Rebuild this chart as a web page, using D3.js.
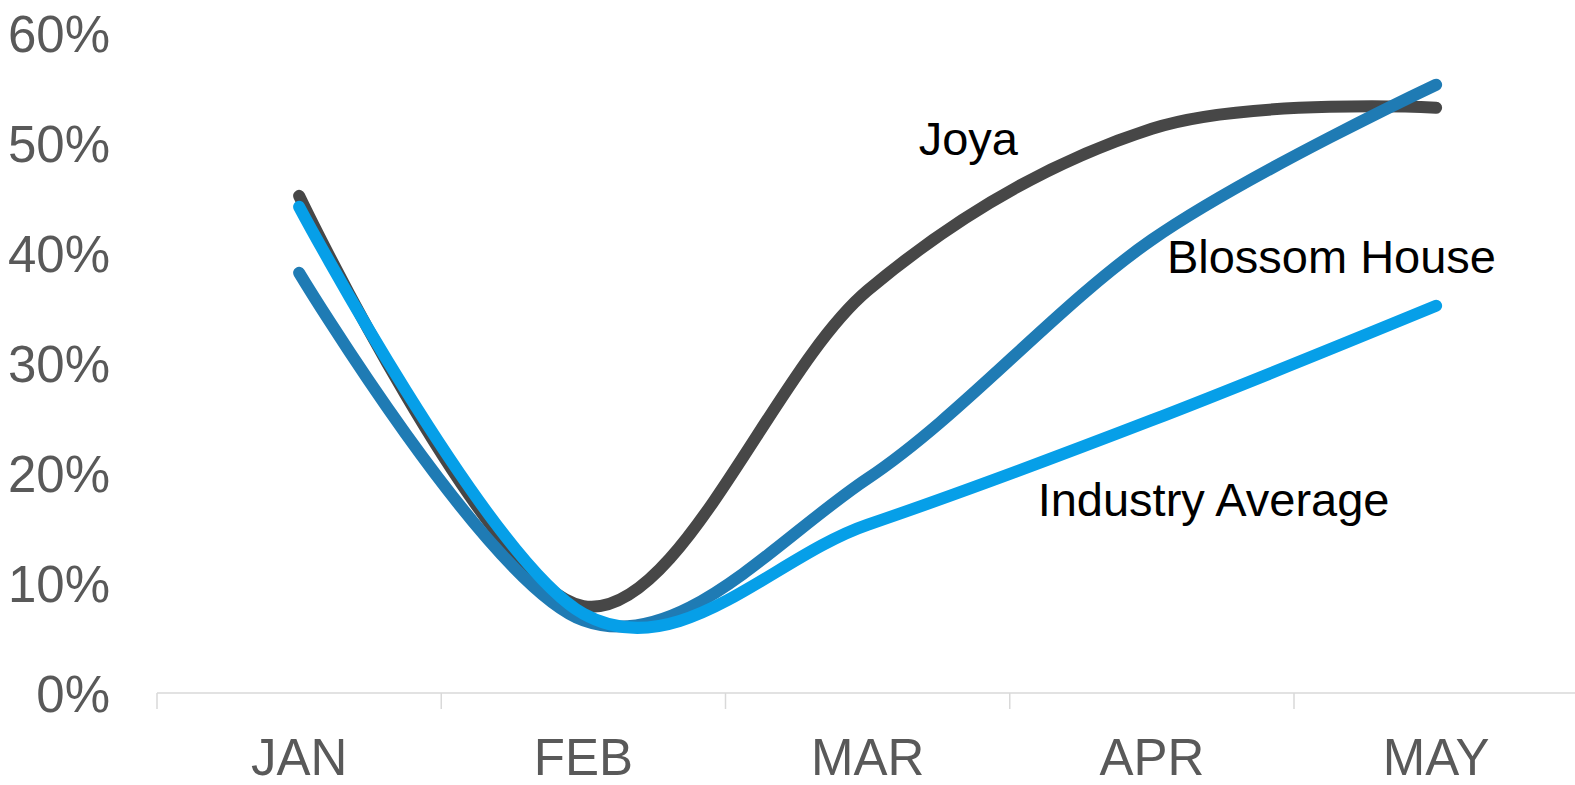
<html><head>
<title>Monthly share</title>
<script src="https://d3js.org/d3.v7.min.js"></script>
<style>
  body { margin: 0; background: #fff; }
  .line { fill: none; stroke-width: 12px; stroke-linecap: round; stroke-linejoin: round; }
  .axis-line { stroke: #d9d9d9; stroke-width: 1.5px; }
  .tick-label { fill: #595959; font-family: "Liberation Sans", Arial, sans-serif; font-size: 51px; }
  .series-label { fill: #000; font-family: "Liberation Sans", Arial, sans-serif; font-size: 47px; }
</style>
</head>
<body>
<svg id="chart" width="1575" height="785"></svg>
<script>
  // values (fractions)
  const months = ["JAN", "FEB", "MAR", "APR", "MAY"];
  const joya = [0.452, 0.079, 0.366, 0.513, 0.532];
  const blossomHouse = [0.382, 0.066, 0.195, 0.412, 0.553];
  const industryAverage = [0.442, 0.072, 0.153, 0.248, 0.352];
  const yTicks = [0, 0.1, 0.2, 0.3, 0.4, 0.5, 0.6];

  const series = [
    { name: "Joya", values: joya, color: "#474747" },
    { name: "Blossom House", values: blossomHouse, color: "#1f7bb4" },
    { name: "Industry Average", values: industryAverage, color: "#069fe8" }
  ];

  const svg = d3.select("svg#chart");
  const plotLeft = 157, plotBottom = 693, plotTop = 33;
  const band = 284.25;

  const xScale = d3.scaleBand().domain(months).range([plotLeft, plotLeft + band * months.length]).padding(0);
  const yScale = d3.scaleLinear().domain([0, 0.6]).range([plotBottom, plotTop]);
  const cx = m => xScale(m) + xScale.bandwidth() / 2;

  // y labels, no axis line
  const yAxis = d3.axisLeft(yScale).tickValues(yTicks).tickFormat(d3.format(".0%")).tickSize(0).tickPadding(0);
  const yArea = svg.append("g").attr("transform", "translate(110,0)").call(yAxis);
  yArea.attr("font-size", null).attr("font-family", null);
  yArea.select(".domain").remove();
  yArea.selectAll("text").attr("class", "tick-label").attr("fill", null)
    .attr("dy", "0.36em");

  // x axis: baseline, ticks between categories, labels centred
  const xArea = svg.append("g");
  xArea.append("line").attr("class", "axis-line")
    .attr("x1", plotLeft).attr("x2", 1575).attr("y1", plotBottom).attr("y2", plotBottom);
  xArea.selectAll(".tick-mark").data(months)
    .enter().append("line")
    .attr("class", "axis-line")
    .attr("x1", d => xScale(d)).attr("x2", d => xScale(d))
    .attr("y1", plotBottom).attr("y2", plotBottom + 16);
  xArea.selectAll(".x-label").data(months)
    .enter().append("text")
    .attr("class", "tick-label")
    .attr("text-anchor", "middle")
    .attr("x", d => cx(d))
    .attr("y", 775)
    .text(d => d);

  // smoothed lines
  const line = d3.line()
    .x((d, i) => cx(months[i]))
    .y(d => yScale(d))
    .curve(d3.curveCardinal.tension(0));

  svg.selectAll(".line").data(series)
    .enter().append("path")
    .attr("class", "line")
    .attr("stroke", d => d.color)
    .attr("d", d => line(d.values));

  // direct labels
  const labelSpots = [
    { name: "Joya", x: cx("MAR") + 51, y: yScale(0.489) },
    { name: "Blossom House", x: cx("APR") + 15, y: yScale(0.382) },
    { name: "Industry Average", x: cx("MAR") + 170, y: yScale(0.161) }
  ];
  svg.selectAll(".series-label").data(labelSpots)
    .enter().append("text")
    .attr("class", "series-label")
    .attr("x", d => d.x)
    .attr("y", d => d.y)
    .text(d => d.name);
</script>
</body>
</html>
